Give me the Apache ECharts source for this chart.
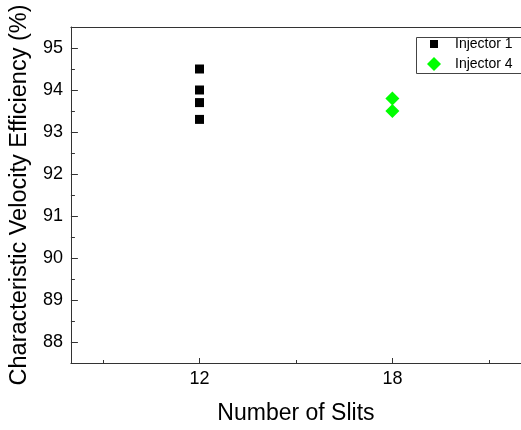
<!DOCTYPE html>
<html>
<head>
<meta charset="utf-8">
<script src="https://cdn.jsdelivr.net/npm/echarts@6/dist/echarts.min.js"></script>
<style>
html,body{margin:0;padding:0;background:#fff;}
#chart{width:521px;height:430px;}
</style>
</head>
<body>
<div id="chart"></div>
<script>
var injector1X = [12, 12, 12, 12];
var injector1Y = [94.5, 94.0, 93.7, 93.3];
var injector4X = [18, 18];
var injector4Y = [93.8, 93.5];
var xMajorTicks = [12, 18];
var xMinorTicks = [9, 15, 21];
var yMajorTicks = [88, 89, 90, 91, 92, 93, 94, 95];
var yMinorTicks = [88.5, 89.5, 90.5, 91.5, 92.5, 93.5, 94.5];
var seriesNames = ['Injector 1', 'Injector 4'];

function pairs(xs, ys) { return xs.map(function (x, i) { return [x, ys[i]]; }); }

var FONT = 'Liberation Sans, Arial, sans-serif';
var AX = '#333';
var chart = echarts.init(document.getElementById('chart'));
chart.setOption({
  animation: false,
  backgroundColor: '#fff',
  textStyle: { fontFamily: FONT },
  grid: { left: 69, top: 27, width: 454, height: 338, containLabel: false },
  graphic: [{
    type: 'rect', left: 414, top: 35, z: 100,
    shape: { width: 105, height: 36 },
    style: { fill: 'none', stroke: '#444', lineWidth: 1 }
  }],
  legend: {
    data: [
      { name: seriesNames[0], icon: 'path://M0 0M14 14M3 3h8v8h-8z' },
      { name: seriesNames[1], icon: 'path://M7 0L14 7L7 14L0 7Z' }
    ],
    orient: 'vertical', left: 427, top: 37, padding: 0, itemGap: 6,
    itemWidth: 14, itemHeight: 14,
    textStyle: { fontSize: 14, color: '#000', fontFamily: FONT, padding: [0, 0, 0, 9] }
  },
  xAxis: [{
    type: 'value', position: 'bottom', min: 8, max: 22,
    name: 'Number of Slits', nameLocation: 'middle', nameGap: 39,
    nameTextStyle: { fontSize: 23, color: '#000', fontFamily: FONT },
    axisLine: { show: true, lineStyle: { color: AX, width: 1 } },
    axisTick: { show: true, inside: true, length: 5, customValues: xMajorTicks, lineStyle: { color: AX } },
    axisLabel: { customValues: xMajorTicks, fontSize: 18, color: '#000', margin: 7, fontFamily: FONT },
    splitLine: { show: false }
  }, {
    type: 'value', position: 'bottom', min: 8, max: 22,
    axisLine: { show: false },
    axisTick: { show: true, inside: true, length: 3, customValues: xMinorTicks, lineStyle: { color: AX } },
    axisLabel: { show: false },
    splitLine: { show: false }
  }, {
    type: 'value', position: 'top', min: 8, max: 22,
    axisLine: { show: true, lineStyle: { color: AX, width: 1 } },
    axisTick: { show: false }, axisLabel: { show: false }, splitLine: { show: false }
  }],
  yAxis: [{
    type: 'value', position: 'left', min: 87.5, max: 95.5,
    name: 'Characteristic Velocity Efficiency (%)', nameLocation: 'middle', nameGap: 34,
    nameTextStyle: { fontSize: 23.5, color: '#000', fontFamily: FONT },
    axisLine: { show: true, lineStyle: { color: AX, width: 1 } },
    axisTick: { show: true, inside: true, length: 7, customValues: yMajorTicks, lineStyle: { color: AX } },
    axisLabel: { customValues: yMajorTicks, fontSize: 18, color: '#000', margin: 8, fontFamily: FONT },
    splitLine: { show: false }
  }, {
    type: 'value', position: 'left', min: 87.5, max: 95.5,
    axisLine: { show: false },
    axisTick: { show: true, inside: true, length: 4, customValues: yMinorTicks, lineStyle: { color: AX } },
    axisLabel: { show: false }, splitLine: { show: false }
  }],
  series: [{
    name: seriesNames[0], type: 'scatter', xAxisIndex: 0, yAxisIndex: 0,
    symbol: 'rect', symbolSize: 9,
    itemStyle: { color: '#000', opacity: 1 },
    data: pairs(injector1X, injector1Y)
  }, {
    name: seriesNames[1], type: 'scatter', xAxisIndex: 0, yAxisIndex: 0,
    symbol: 'diamond', symbolSize: [14, 14],
    itemStyle: { color: '#00ff00', opacity: 1 },
    data: pairs(injector4X, injector4Y)
  }]
});
</script>
</body>
</html>
